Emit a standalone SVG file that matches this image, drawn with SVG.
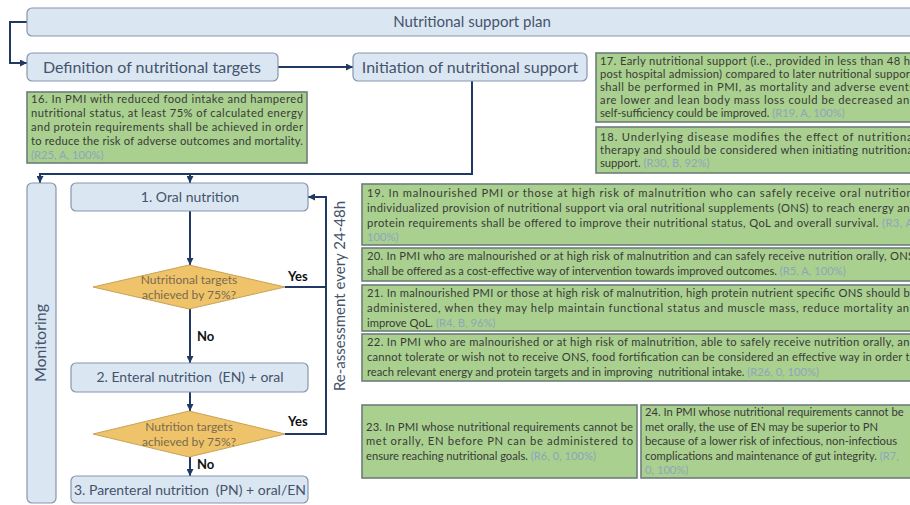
<svg xmlns="http://www.w3.org/2000/svg" width="910" height="505" viewBox="0 0 910 505">
<style>
.blue{fill:#dbe6f3;stroke:#8796ab;stroke-width:1.2}
.green{fill:#a9d08e;stroke:#6e7d7d;stroke-width:1.6}
.dia{fill:#efc36a;stroke:#c9a257;stroke-width:1}
text{font-family:Lato,"Liberation Sans",sans-serif}
.bt{fill:#44546a;text-anchor:middle;white-space:pre}
.gt{fill:#3a3a3a;font-size:11.2px;white-space:pre}
.ref{fill:#8ea5bf}
.dt{fill:#7b6a4e;font-size:12px;text-anchor:middle}
.yn{fill:#111;font-size:13px;font-weight:bold}
.conn{stroke:#1f3864;stroke-width:2;fill:none}
</style>
<defs>
<marker id="ah" viewBox="0 0 10 10" refX="10" refY="5" markerWidth="3.5" markerHeight="3.5" orient="auto"><path d="M0,0 L10,5 L0,10 z" fill="#1f3864"/></marker>
</defs>
<g id="connectors">
<path class="conn" d="M27,22 H10 V63 H27" marker-end="url(#ah)"/>
<path class="conn" d="M278,67 H353" marker-end="url(#ah)"/>
<path class="conn" d="M472,81 V174 H40 V183" marker-end="url(#ah)"/>
<path class="conn" d="M190,174 V183" marker-end="url(#ah)"/>
<path class="conn" d="M190,211 V265" marker-end="url(#ah)"/>
<path class="conn" d="M190,309 V363" marker-end="url(#ah)"/>
<path class="conn" d="M190,392 V411" marker-end="url(#ah)"/>
<path class="conn" d="M190,457 V476" marker-end="url(#ah)"/>
<path class="conn" d="M285,287 H326"/>
<path class="conn" d="M285,434 H326 V197 H308" marker-end="url(#ah)"/>
</g>
<g id="plan"><rect class="blue" x="27" y="8" width="900" height="28" rx="5"/><text class="bt" x="472" y="27" font-size="15">Nutritional support plan</text></g>
<g id="definition"><rect class="blue" x="27" y="53" width="251" height="28" rx="5"/><text class="bt" x="152" y="73" font-size="16">Definition of nutritional targets</text></g>
<g id="initiation"><rect class="blue" x="353" y="53" width="234" height="28" rx="5"/><text class="bt" x="470" y="73" font-size="16">Initiation of nutritional support</text></g>
<g id="rec16"><rect class="green" x="27" y="92" width="280" height="71"/>
<text class="gt" x="31" y="103" font-size="12" textLength="272" lengthAdjust="spacing">16. In PMI with reduced food intake and hampered</text>
<text class="gt" x="31" y="117" font-size="12" textLength="272" lengthAdjust="spacing">nutritional status, at least 75% of calculated energy</text>
<text class="gt" x="31" y="131" font-size="12" textLength="272" lengthAdjust="spacing">and protein requirements shall be achieved in order</text>
<text class="gt" x="31" y="145" font-size="12" textLength="272" lengthAdjust="spacing">to reduce the risk of adverse outcomes and mortality.</text>
<text class="gt ref" x="31" y="159" font-size="12">(R25, A, 100%)</text></g>
<g id="rec17"><rect class="green" x="596" y="53" width="330" height="69"/>
<text class="gt" x="600" y="65" textLength="310" lengthAdjust="spacing">17. Early nutritional support (i.e., provided in less than 48 h</text>
<text class="gt" x="600" y="78" textLength="314" lengthAdjust="spacing">post hospital admission) compared to later nutritional support</text>
<text class="gt" x="600" y="91" textLength="314" lengthAdjust="spacing">shall be performed in PMI, as mortality and adverse events</text>
<text class="gt" x="600" y="104" textLength="316" lengthAdjust="spacing">are lower and lean body mass loss could be decreased and</text>
<text class="gt" x="600" y="117">self-sufficiency could be improved. <tspan class="ref">(R19, A, 100%)</tspan></text></g>
<g id="rec18"><rect class="green" x="596" y="127" width="330" height="46"/>
<text class="gt" x="600" y="141" textLength="316" lengthAdjust="spacing">18. Underlying disease modifies the effect of nutritional</text>
<text class="gt" x="600" y="154" textLength="316" lengthAdjust="spacing">therapy and should be considered when initiating nutritional</text>
<text class="gt" x="600" y="167">support. <tspan class="ref">(R30, B, 92%)</tspan></text></g>
<g id="monitoring"><rect class="blue" x="27" y="183" width="29" height="320" rx="5"/><text class="bt" font-size="16" transform="translate(46,343) rotate(-90)">Monitoring</text></g>
<g id="oral"><rect class="blue" x="71" y="183" width="237" height="28" rx="5"/><text class="bt" x="190" y="202" font-size="14">1. Oral nutrition</text></g>
<g id="decision1"><polygon class="dia" points="93,287 189,265 285,287 189,309"/><text class="dt" x="189" y="284">Nutritional targets</text><text class="dt" x="189" y="299">achieved by 75%?</text></g>
<g id="enteral"><rect class="blue" x="71" y="363" width="237" height="29" rx="5"/><text class="bt" x="190" y="382" font-size="14">2. Enteral nutrition  (EN) + oral</text></g>
<g id="decision2"><polygon class="dia" points="93,434 189,411 285,434 189,457"/><text class="dt" x="189" y="431">Nutrition targets</text><text class="dt" x="189" y="446">achieved by 75%?</text></g>
<g id="parenteral"><rect class="blue" x="71" y="476" width="237" height="27" rx="5"/><text class="bt" x="190" y="495" font-size="14">3. Parenteral nutrition  (PN) + oral/EN</text></g>
<g id="labels">
<text class="yn" x="288" y="281">Yes</text>
<text class="yn" x="197" y="341">No</text>
<text class="yn" x="288" y="426">Yes</text>
<text class="yn" x="197" y="469">No</text>
<text class="bt" font-size="15" transform="translate(345,296) rotate(-90)">Re-assessment every 24-48h</text>
</g>
<g id="rec19"><rect class="green" x="362" y="184" width="560" height="61"/>
<text class="gt" x="367" y="197" textLength="549" lengthAdjust="spacing">19. In malnourished PMI or those at high risk of malnutrition who can safely receive oral nutrition,</text>
<text class="gt" x="367" y="212" textLength="549" lengthAdjust="spacing">individualized provision of nutritional support via oral nutritional supplements (ONS) to reach energy and</text>
<text class="gt" x="367" y="227" textLength="549" lengthAdjust="spacing">protein requirements shall be offered to improve their nutritional status, QoL and overall survival. <tspan class="ref">(R3, A,</tspan></text>
<text class="gt ref" x="367" y="241">100%)</text></g>
<g id="rec20"><rect class="green" x="362" y="248" width="560" height="33"/>
<text class="gt" x="367" y="260" textLength="547" lengthAdjust="spacing">20. In PMI who are malnourished or at high risk of malnutrition and can safely receive nutrition orally, ONS</text>
<text class="gt" x="367" y="275">shall be offered as a cost-effective way of intervention towards improved outcomes. <tspan class="ref">(R5, A, 100%)</tspan></text></g>
<g id="rec21"><rect class="green" x="362" y="285" width="560" height="46"/>
<text class="gt" x="367" y="297" textLength="549" lengthAdjust="spacing">21. In malnourished PMI or those at high risk of malnutrition, high protein nutrient specific ONS should be</text>
<text class="gt" x="367" y="312" textLength="549" lengthAdjust="spacing">administered, when they may help maintain functional status and muscle mass, reduce mortality and</text>
<text class="gt" x="367" y="327">improve QoL. <tspan class="ref">(R4, B, 96%)</tspan></text></g>
<g id="rec22"><rect class="green" x="362" y="334" width="560" height="47"/>
<text class="gt" x="367" y="346" textLength="549" lengthAdjust="spacing">22. In PMI who are malnourished or at high risk of malnutrition, able to safely receive nutrition orally, and</text>
<text class="gt" x="367" y="361" textLength="549" lengthAdjust="spacing">cannot tolerate or wish not to receive ONS, food fortification can be considered an effective way in order to</text>
<text class="gt" x="367" y="376">reach relevant energy and protein targets and in improving  nutritional intake. <tspan class="ref">(R26, 0, 100%)</tspan></text></g>
<g id="rec23"><rect class="green" x="362" y="405" width="275" height="73"/>
<text class="gt" x="366" y="431" textLength="267" lengthAdjust="spacing">23. In PMI whose nutritional requirements cannot be</text>
<text class="gt" x="366" y="445" textLength="267" lengthAdjust="spacing">met orally, EN before PN can be administered to</text>
<text class="gt" x="366" y="460">ensure reaching nutritional goals. <tspan class="ref">(R6, 0, 100%)</tspan></text></g>
<g id="rec24"><rect class="green" x="641" y="405" width="280" height="73"/>
<text class="gt" x="645" y="416">24. In PMI whose nutritional requirements cannot be</text>
<text class="gt" x="645" y="431">met orally, the use of EN may be superior to PN</text>
<text class="gt" x="645" y="445">because of a lower risk of infectious, non-infectious</text>
<text class="gt" x="645" y="460">complications and maintenance of gut integrity. <tspan class="ref">(R7,</tspan></text>
<text class="gt ref" x="645" y="474">0, 100%)</text></g>
</svg>
